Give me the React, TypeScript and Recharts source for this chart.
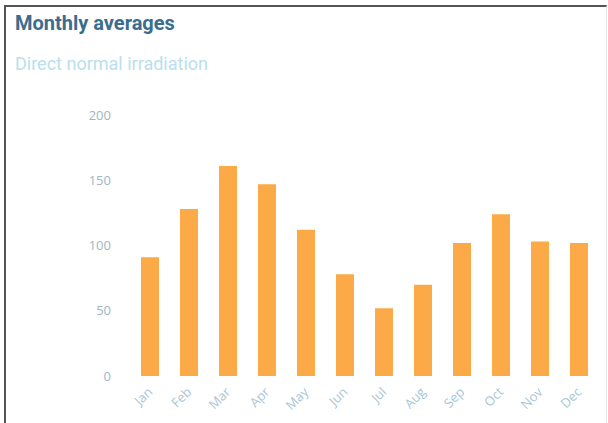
import React from 'react'
import { BarChart, Bar, XAxis, YAxis } from 'recharts'

const months = ['Jan', 'Feb', 'Mar', 'Apr', 'May', 'Jun', 'Jul', 'Aug', 'Sep', 'Oct', 'Nov', 'Dec']
const dni = [91, 128, 161, 147, 112, 78, 52, 70, 102, 124, 103, 102]
const yTicks = [0, 50, 100, 150, 200]

const chartData = months.map((m, i) => ({ month: m, dni: dni[i] }))

const RotatedTick = (props: any) => {
  const { x, y, payload } = props
  return (
    <g transform={`translate(${x + 1},${y + 4})`}>
      <text
        x={0}
        y={0}
        dy={4}
        textAnchor="end"
        fill="#a9c6d6"
        fontSize={13}
        fontFamily="'Open Sans', sans-serif"
        transform="rotate(-45)"
      >
        {payload.value}
      </text>
    </g>
  )
}

export default function App() {
  return (
    <div
      style={{
        position: 'absolute',
        left: 0,
        top: 0,
        width: 608,
        height: 423,
        background: '#fff',
        overflow: 'hidden',
        fontFamily: 'Roboto, sans-serif'
      }}
    >
      <div
        style={{
          position: 'absolute',
          left: 4,
          top: 5,
          width: 600,
          height: 430,
          borderTop: '2px solid #555',
          borderLeft: '2px solid #555',
          borderRight: '1px solid #e4e8ea'
        }}
      />
      <div style={{ position: 'absolute', left: 15, top: 11, fontSize: 20, fontWeight: 700, color: '#3b6d8e' }}>
        Monthly averages
      </div>
      <div style={{ position: 'absolute', left: 15, top: 53, fontSize: 18, color: '#b9e0ee' }}>
        Direct normal irradiation
      </div>
      <div style={{ position: 'absolute', left: 0, top: 0 }}>
        <BarChart width={608} height={423} data={chartData} margin={{ top: 115, right: 10, bottom: 0, left: 0 }}>
          <XAxis
            dataKey="month"
            axisLine={false}
            tickLine={false}
            height={47}
            interval={0}
            tick={<RotatedTick />}
            tickSize={0}
            tickMargin={10}
          />
          <YAxis
            domain={[0, 200]}
            ticks={yTicks}
            axisLine={false}
            tickLine={false}
            width={130}
            tickSize={0}
            tickMargin={19}
            tick={{ fill: '#9fb6c3', fontSize: 13, fontFamily: "'Open Sans', sans-serif" }}
          />
          <Bar dataKey="dni" fill="#fcaa47" barSize={18} isAnimationActive={false} />
        </BarChart>
      </div>
    </div>
  )
}
